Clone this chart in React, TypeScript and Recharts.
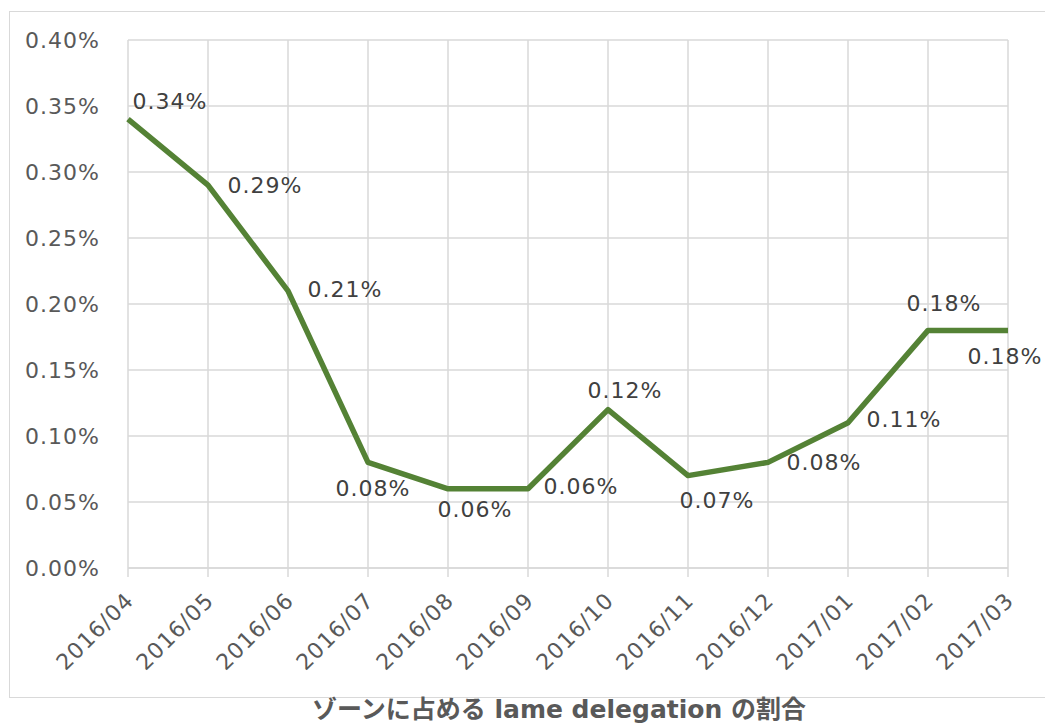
import React from "react";
import { LineChart, Line, XAxis, YAxis, CartesianGrid } from "recharts";

// 月別のゾーン比率 (%)
const months = [
  "2016/04", "2016/05", "2016/06", "2016/07", "2016/08", "2016/09",
  "2016/10", "2016/11", "2016/12", "2017/01", "2017/02", "2017/03",
];
const ratio = [0.34, 0.29, 0.21, 0.08, 0.06, 0.06, 0.12, 0.07, 0.08, 0.11, 0.18, 0.18];
const yTicks = [0, 0.05, 0.1, 0.15, 0.2, 0.25, 0.3, 0.35, 0.4];
const title = "ゾーンに占める lame delegation の割合";

// ラベルの位置 (点からのずれ, px)
const labelShift: [number, number][] = [
  [42, -18], [57, 0], [57, -1], [5, 26], [27, 21], [53, -2],
  [17, -19], [29, 25], [56, 0], [56, -3], [16, -27], [-3, 26],
];

const FONT = "'DejaVu Sans', Verdana, sans-serif";
const GRID = "#d9d9d9";

const data = months.map((m, i) => ({ month: m, value: ratio[i] }));

const fmt = (v: number) => `${v.toFixed(2)}%`;

function MonthTick(props: any) {
  const { x, payload } = props;
  return (
    <text
      x={x + 7}
      y={602}
      transform={`rotate(-45, ${x + 7}, 602)`}
      textAnchor="end"
      fill="#595959"
      fontSize={22}
      letterSpacing={1}
      fontFamily={FONT}
    >
      {payload.value}
    </text>
  );
}

function ValueLabel(props: any) {
  const { x, y, value, index } = props;
  const [dx, dy] = labelShift[index] ?? [0, -20];
  return (
    <text
      x={x + dx}
      y={y + dy}
      textAnchor="middle"
      dominantBaseline="central"
      fill="#404040"
      fontSize={22}
      letterSpacing={1}
      fontFamily={FONT}
    >
      {fmt(value)}
    </text>
  );
}

export default function App() {
  return (
    <div
      style={{
        position: "absolute",
        left: 0,
        top: 0,
        width: 1045,
        height: 726,
        overflow: "hidden",
        background: "#fff",
      }}
    >
      <div
        style={{
          position: "absolute",
          left: 9,
          top: 11,
          width: 1045,
          height: 685,
          border: `1px solid ${GRID}`,
        }}
      />
      <div style={{ position: "absolute", left: 0, top: 0 }}>
        <LineChart
          width={1045}
          height={726}
          data={data}
          margin={{ top: 40, right: 37, bottom: 38, left: 28 }}
        >
          <CartesianGrid stroke={GRID} strokeWidth={1.5} />
          <XAxis
            dataKey="month"
            interval={0}
            height={120}
            tick={<MonthTick />}
            tickSize={9}
            tickLine={{ stroke: GRID, strokeWidth: 1.5 }}
            axisLine={{ stroke: GRID, strokeWidth: 1.5 }}
            padding={{ left: 0, right: 0 }}
          />
          <YAxis
            width={100}
            domain={[0, 0.4]}
            ticks={yTicks}
            tickFormatter={fmt}
            axisLine={false}
            tickLine={false}
            tickSize={0}
            tickMargin={28}
            tick={{ fill: "#595959", fontSize: 22, fontFamily: FONT, letterSpacing: 1 }}
          />
          <Line
            type="linear"
            dataKey="value"
            stroke="#548235"
            strokeWidth={5.5}
            strokeLinejoin="round"
            dot={false}
            activeDot={false}
            isAnimationActive={false}
            label={<ValueLabel />}
          />
        </LineChart>
      </div>
      <div
        style={{
          position: "absolute",
          left: 0,
          width: 1118,
          top: 694,
          textAlign: "center",
          fontFamily: "'DejaVu Sans', 'Noto Sans CJK JP', sans-serif",
          fontWeight: 700,
          fontSize: 25,
          lineHeight: "32px",
          color: "#595959",
          whiteSpace: "nowrap",
        }}
      >
        {title}
      </div>
    </div>
  );
}
